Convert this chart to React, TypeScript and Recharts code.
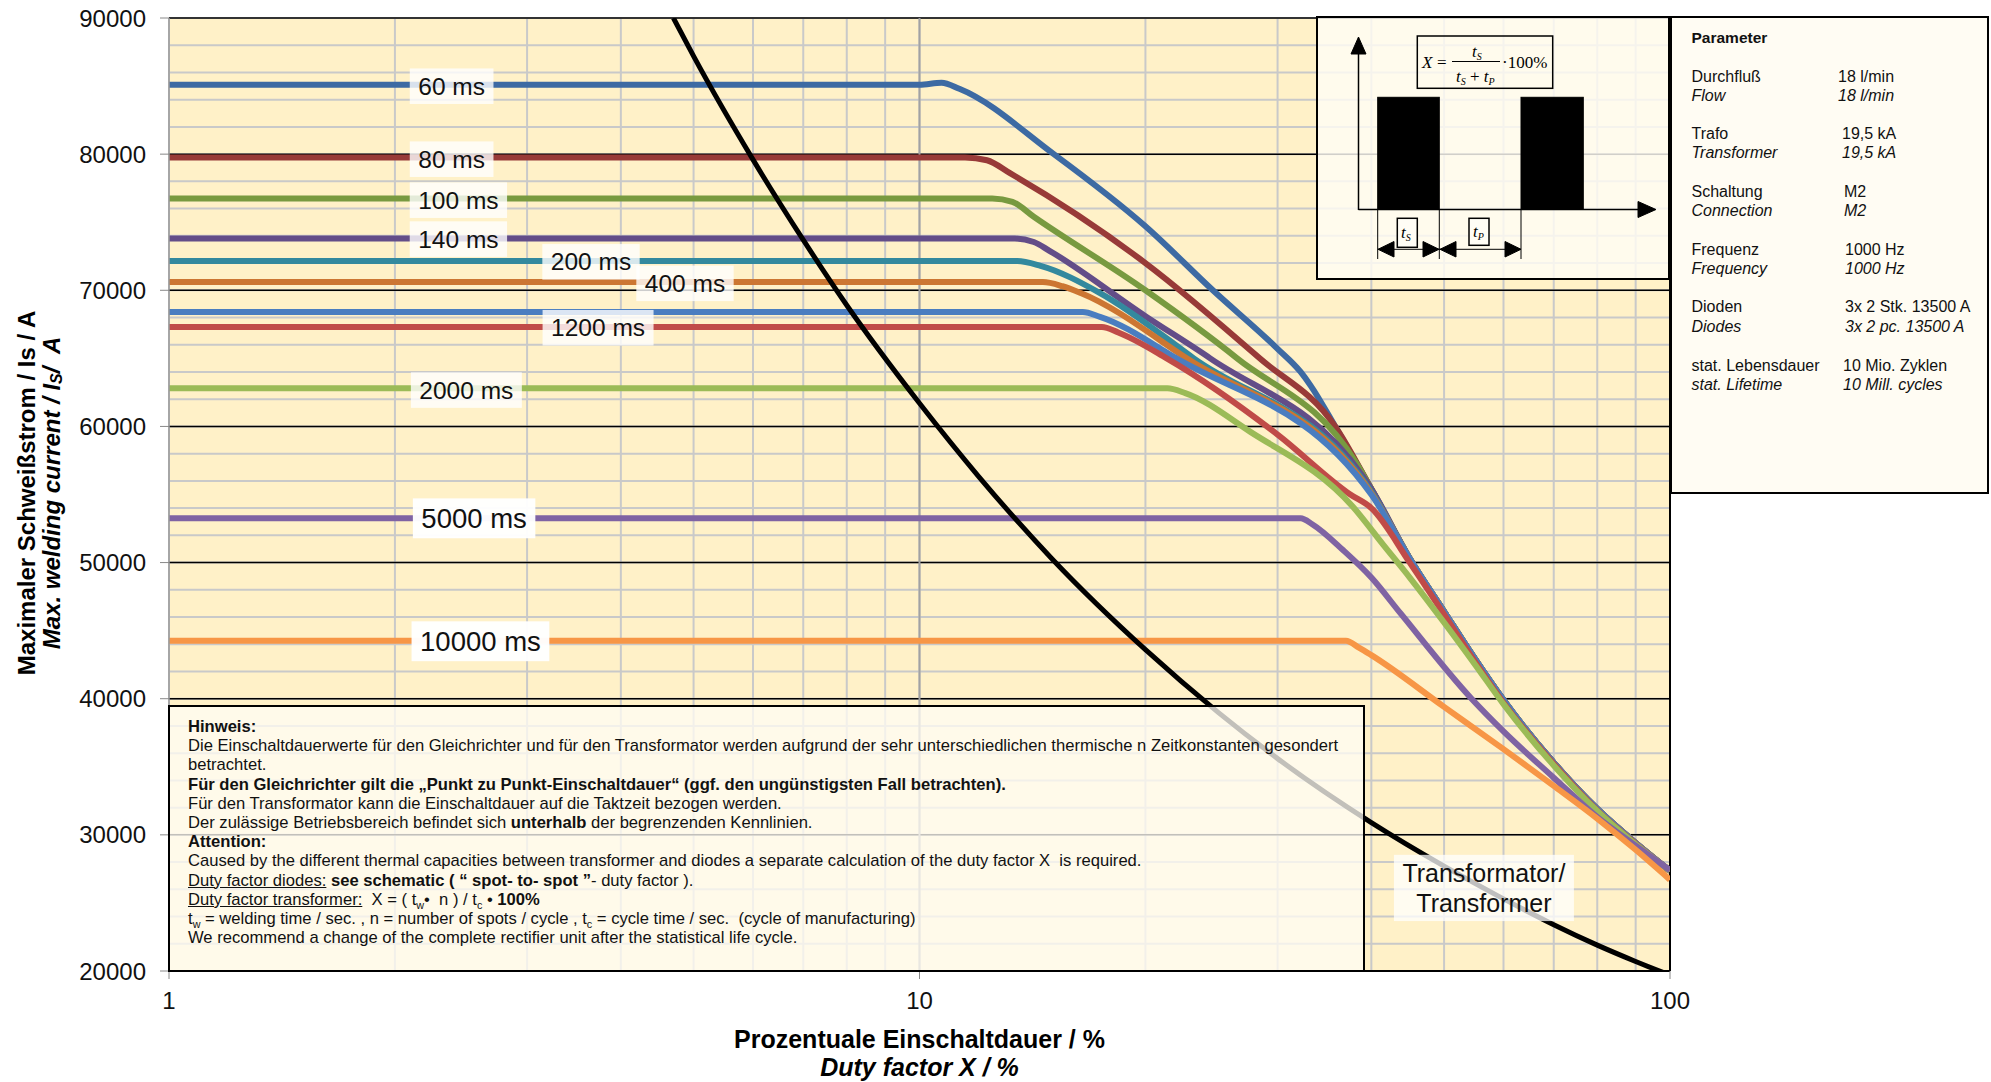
import React from 'react';
import { CartesianGrid, Line, LineChart, ReferenceDot, ReferenceLine, XAxis, YAxis } from 'recharts';

const FONT = '"Liberation Sans", Arial, sans-serif';
const SERIF = '"Liberation Serif", "Times New Roman", serif';

// axis values
const xTicks = [1, 10, 100];
const xGrid = [1, 2, 3, 4, 5, 6, 7, 8, 9, 10, 20, 30, 40, 50, 60, 70, 80, 90, 100];
const yMajor = [20000, 30000, 40000, 50000, 60000, 70000, 80000, 90000];
const yMinor = [
  20000, 22000, 24000, 26000, 28000, 30000, 32000, 34000, 36000, 38000, 40000, 42000, 44000, 46000, 48000, 50000,
  52000, 54000, 56000, 58000, 60000, 62000, 64000, 66000, 68000, 70000, 72000, 74000, 76000, 78000, 80000, 82000,
  84000, 86000, 88000, 90000,
];

// curves, [duty factor %, current A]
const bundleTail: [number, number][] = [
  [45, 50300], [50, 46400], [55, 42900], [60, 39900], [70, 35300], [80, 31900], [90, 29400], [100, 27350],
];
const ms60: [number, number][] = [
  [1, 85100], [10, 85100], [10.7, 85250], [11.3, 84800], [15.1, 80000], [20, 74700], [24.6, 70000], [30, 65700],
  [32.2, 64000], [33.2, 63000], [35.8, 60000], [40, 55400],
];
const ms80: [number, number][] = [
  [1, 79750], [11.5, 79750], [12.3, 79550], [13.2, 78600], [20, 72000], [28.4, 65000], [35.8, 60000], [40, 55400],
];
const ms100: [number, number][] = [
  [1, 76750], [12.5, 76750], [13.3, 76500], [14.2, 75400], [20, 70000], [26.5, 65000], [38.2, 57300], [40, 55400],
];
const ms140: [number, number][] = [
  [1, 73800], [13.4, 73800], [14.2, 73550], [14.9, 72900], [20, 68100], [24.4, 65000], [39, 56300], [40, 55400],
];
const ms200: [number, number][] = [
  [1, 72150], [13.5, 72150], [14.5, 71800], [17.4, 69800], [23.2, 65000], [40, 55200],
];
const ms400: [number, number][] = [
  [1, 70600], [14.6, 70600], [15.5, 70300], [16.4, 69800], [22.7, 65000], [40, 55100],
];
const msBlue: [number, number][] = [[1, 68400], [16.5, 68400], [17.4, 68050], [22, 65000], [40, 55000]];
const ms1200: [number, number][] = [
  [1, 67300], [17.5, 67300], [18.4, 66900], [21.35, 65000], [30, 59400], [37.5, 55000], [40, 54000], [45, 50000],
  [50, 46200], [55, 42700], [60, 39700], [70, 35200], [80, 31800], [90, 29350], [100, 27350],
];
const ms2000: [number, number][] = [
  [1, 62800], [21.4, 62800], [22.6, 62450], [27.6, 59600], [37.8, 54100], [41.5, 51300], [45, 48900], [50, 45600],
  [55, 42500], [60, 39600], [70, 35100], [80, 31750], [90, 29300], [100, 27350],
];
const ms5000: [number, number][] = [
  [1, 53250], [32.2, 53250], [33.4, 52800], [36.7, 50900], [40, 48900], [43.7, 46300], [54.4, 40000], [60, 37600],
  [70, 34200], [80, 31300], [90, 29200], [100, 27400],
];
const ms10000: [number, number][] = [
  [1, 44250], [37, 44250], [38.5, 43750], [40, 43200], [50, 39400], [60, 36300], [70, 33600], [80, 31200],
  [90, 28900], [100, 26700],
];
const transformer: [number, number][] = [
  [4.7, 90000], [5, 87200], [6, 79600], [7, 73700], [8, 68900], [10, 61700], [12, 56300], [15, 50300], [20, 43600],
  [25, 39000], [30, 35600], [40, 30900], [50, 27700], [60, 25300], [70, 23400], [80, 21900], [90, 20700],
  [100, 19700],
];

// curve labels
const labelText = ['60 ms', '80 ms', '100 ms', '140 ms', '200 ms', '400 ms', '1200 ms', '2000 ms', '5000 ms', '10000 ms'];
const labelX = [2.38, 2.38, 2.43, 2.43, 3.65, 4.87, 3.73, 2.49, 2.55, 2.6];
const labelY = [84990, 79630, 76620, 73760, 72090, 70510, 67250, 62670, 53250, 44220];

const toPts = (a: [number, number][]) => a.map(([x, y]) => ({ x, y }));

const series = [
  { name: '60 ms', data: ms60.concat(bundleTail), color: '#3d6aa3' },
  { name: '80 ms', data: ms80.concat(bundleTail), color: '#983a38' },
  { name: '100 ms', data: ms100.concat(bundleTail), color: '#789a40' },
  { name: '140 ms', data: ms140.concat(bundleTail), color: '#634d88' },
  { name: '200 ms', data: ms200.concat(bundleTail), color: '#33899e' },
  { name: '400 ms', data: ms400.concat(bundleTail), color: '#cc7632' },
  { name: '800 ms', data: msBlue.concat(bundleTail), color: '#4a7dc0' },
  { name: '1200 ms', data: ms1200, color: '#c04b48' },
  { name: '2000 ms', data: ms2000, color: '#9bbb57' },
  { name: '5000 ms', data: ms5000, color: '#7f63a3' },
  { name: '10000 ms', data: ms10000, color: '#f79646' },
];

const measureCtx = typeof document !== 'undefined' ? document.createElement('canvas').getContext('2d') : null;
function textWidth(t: string, size: number) {
  if (!measureCtx) return t.length * size * 0.55;
  measureCtx.font = `${size}px "Liberation Sans", Arial`;
  return measureCtx.measureText(t).width;
}

function BoxLabel({ viewBox, lines, size, alpha }: any) {
  const vb = viewBox || {};
  const cx = (vb.x ?? vb.cx ?? 0) + (vb.width || 0) / 2;
  const cy = (vb.y ?? vb.cy ?? 0) + (vb.height || 0) / 2;
  const lh = size * 1.2;
  const w = Math.max(...lines.map((l: string) => textWidth(l, size))) + 17;
  const h = lh * (lines.length - 1) + size * 1.45;
  return (
    <g>
      <rect x={cx - w / 2} y={cy - h / 2} width={w} height={h} fill={`rgba(255,255,255,${alpha})`} />
      {lines.map((l: string, i: number) => (
        <text
          key={l}
          x={cx}
          y={cy + (i - (lines.length - 1) / 2) * lh}
          textAnchor="middle"
          dominantBaseline="central"
          fontSize={size}
          fontFamily={FONT}
          fill="#111"
        >
          {l}
        </text>
      ))}
    </g>
  );
}

const paramRows: [string, string, number, number, boolean][] = [
  ['Durchfluß', '18  l/min', 76, 1838, false],
  ['Flow', '18 l/min', 95, 1838, true],
  ['Trafo', '19,5 kA', 133.3, 1842, false],
  ['Transformer', '19,5 kA', 152.7, 1842, true],
  ['Schaltung', 'M2', 191.7, 1844, false],
  ['Connection', 'M2', 210.7, 1844, true],
  ['Frequenz', '1000 Hz', 249.3, 1845, false],
  ['Frequency', '1000 Hz', 268.3, 1845, true],
  ['Dioden', '3x 2 Stk. 13500 A', 306.7, 1845, false],
  ['Diodes', '3x 2 pc.  13500 A', 326, 1845, true],
  ['stat. Lebensdauer', '10 Mio.  Zyklen', 365, 1843, false],
  ['stat. Lifetime', '10 Mill.  cycles', 384, 1843, true],
];

const sub = { fontSize: '0.65em', lineHeight: 0 } as const;

function Overlay() {
  return (
    <svg width={1991} height={1082} style={{ position: 'absolute', left: 0, top: 0, pointerEvents: 'none' }}>
      {/* axis titles */}
      <g fontFamily={FONT} fontWeight="bold" fill="#000">
        <text x={919.5} y={1039} textAnchor="middle" dominantBaseline="central" fontSize={25}>
          Prozentuale Einschaltdauer / %
        </text>
        <text x={919.5} y={1067} textAnchor="middle" dominantBaseline="central" fontSize={25} fontStyle="italic">
          Duty factor X / %
        </text>
        <text transform="translate(26.5,493) rotate(-90)" textAnchor="middle" dominantBaseline="central" fontSize={24}>
          Maximaler Schweißstrom / Is / A
        </text>
        <text
          transform="translate(51,493) rotate(-90)"
          textAnchor="middle"
          dominantBaseline="central"
          fontSize={24}
          fontStyle="italic"
          style={{ whiteSpace: 'pre' }}
        >
          Max. welding current / I
          <tspan fontSize={16} dy={5}>
            S
          </tspan>
          <tspan dy={-5}>{'/  A'}</tspan>
        </text>
      </g>

      {/* duty cycle schematic */}
      <rect x={1317} y={17} width={352} height={262} fill="rgba(255,253,245,0.82)" stroke="#000" strokeWidth={2} />
      <g stroke="#000" fill="#000">
        <line x1={1358.5} y1={210} x2={1358.5} y2={52} strokeWidth={1.5} />
        <polygon points="1358.5,37 1351,54 1366,54" />
        <line x1={1358.5} y1={209.5} x2={1640} y2={209.5} strokeWidth={1.5} />
        <polygon points="1656,209.5 1638,201.5 1638,217.5" />
        <rect x={1377.7} y={97.3} width={61.6} height={112} />
        <rect x={1521} y={97.3} width={62.3} height={112} />
        <line x1={1377.7} y1={209.5} x2={1377.7} y2={259} strokeWidth={1} />
        <line x1={1439.3} y1={209.5} x2={1439.3} y2={259} strokeWidth={1} />
        <line x1={1521} y1={209.5} x2={1521} y2={259} strokeWidth={1} />
        <line x1={1377.7} y1={249.3} x2={1521} y2={249.3} strokeWidth={1} />
        <polygon points="1378,249.3 1394,241.5 1394,257" />
        <polygon points="1439,249.3 1423,241.5 1423,257" />
        <polygon points="1440,249.3 1456,241.5 1456,257" />
        <polygon points="1521,249.3 1505,241.5 1505,257" />
      </g>
      <g fill="none" stroke="#000" strokeWidth={1.5}>
        <rect x={1417.3} y={36} width={135.4} height={52.3} />
        <rect x={1397.3} y={218.3} width={20} height={29} fill="rgba(255,253,245,1)" />
        <rect x={1469} y={218.3} width={20} height={27} fill="rgba(255,253,245,1)" />
        <line x1={1452} y1={61.5} x2={1500} y2={61.5} strokeWidth={1} />
      </g>
      <g fontFamily={SERIF} fill="#000" fontSize={17}>
        <text x={1422} y={68} fontStyle="italic">
          X
        </text>
        <text x={1437} y={68}>=</text>
        <text x={1472} y={57} fontStyle="italic">
          t<tspan fontSize={10} dy={3}>S</tspan>
        </text>
        <text x={1456} y={82} fontStyle="italic">
          t<tspan fontSize={10} dy={3}>S</tspan>
          <tspan dy={-3} fontStyle="normal">
            {' + '}
          </tspan>
          t<tspan fontSize={10} dy={3}>P</tspan>
        </text>
        <text x={1502} y={68}>·100%</text>
        <text x={1401} y={238} fontStyle="italic">
          t<tspan fontSize={10} dy={3}>S</tspan>
        </text>
        <text x={1473} y={237} fontStyle="italic">
          t<tspan fontSize={10} dy={3}>P</tspan>
        </text>
      </g>

      {/* parameter box */}
      <rect x={1671} y={17} width={317} height={476} fill="#fffcf3" stroke="#000" strokeWidth={2} />
      <g fontFamily={FONT} fontSize={16} fill="#111" style={{ whiteSpace: 'pre' }}>
        <text x={1691.5} y={37.5} dominantBaseline="central" fontWeight="bold" fontSize={15.5}>
          Parameter
        </text>
        {paramRows.map(([a, b, y, vx, it]) => (
          <g key={a + y} fontStyle={it ? 'italic' : 'normal'}>
            <text x={1691.5} y={y} dominantBaseline="central">
              {a}
            </text>
            <text x={vx} y={y} dominantBaseline="central">
              {b}
            </text>
          </g>
        ))}
      </g>
    </svg>
  );
}

function Hinweis() {
  return (
    <div
      style={{
        position: 'absolute',
        left: 168,
        top: 705,
        width: 1197,
        height: 267,
        boxSizing: 'border-box',
        border: '2px solid #000',
        background: 'rgba(255,253,245,0.76)',
        padding: '10px 0 0 18px',
        fontFamily: FONT,
        fontSize: 16.6,
        lineHeight: '19.2px',
        color: '#111',
        whiteSpace: 'pre',
      }}
    >
      <div style={{ fontWeight: 700 }}>Hinweis:</div>
      <div>
        Die Einschaltdauerwerte für den Gleichrichter und für den Transformator werden aufgrund der sehr
        unterschiedlichen thermische n Zeitkonstanten gesondert
      </div>
      <div>betrachtet.</div>
      <div style={{ fontWeight: 700 }}>
        Für den Gleichrichter gilt die „Punkt zu Punkt-Einschaltdauer“ (ggf. den ungünstigsten Fall betrachten).
      </div>
      <div>Für den Transformator kann die Einschaltdauer auf die Taktzeit bezogen werden.</div>
      <div>
        Der zulässige Betriebsbereich befindet sich <b>unterhalb</b> der begrenzenden Kennlinien.
      </div>
      <div style={{ fontWeight: 700 }}>Attention:</div>
      <div>
        Caused by the different thermal capacities between transformer and diodes a separate calculation of the duty
        factor X  is required.
      </div>
      <div>
        <u>Duty factor diodes:</u> <b>see schematic ( “ spot- to- spot ”</b>- duty factor ).
      </div>
      <div>
        <u>Duty factor transformer:</u>  X = ( t<sub style={sub}>w</sub>•  n ) / t<sub style={sub}>c</sub> •{' '}
        <b>100%</b>
      </div>
      <div>
        t<sub style={sub}>w</sub> = welding time / sec. , n = number of spots / cycle , t<sub style={sub}>c</sub> = cycle
        time / sec.  (cycle of manufacturing)
      </div>
      <div>We recommend a change of the complete rectifier unit after the statistical life cycle.</div>
    </div>
  );
}

export default function App() {
  return (
    <div style={{ position: 'absolute', left: 0, top: 0, width: 1991, height: 1082, background: '#fff' }}>
      <LineChart width={1991} height={1082} margin={{ top: 18, right: 321, bottom: 51, left: 49 }}>
        <CartesianGrid
          fill="#fff1c8"
          stroke="#c9c9c9"
          strokeWidth={2}
          horizontalValues={yMinor}
          verticalValues={xGrid}
        />
        <CartesianGrid vertical={false} stroke="#000" strokeWidth={1.5} horizontalValues={yMajor} />
        <CartesianGrid horizontal={false} stroke="#a2a2a2" strokeWidth={2} verticalValues={[10]} />
        <XAxis
          type="number"
          dataKey="x"
          scale="log"
          domain={[1, 100]}
          ticks={xTicks}
          allowDataOverflow
          height={60}
          tickSize={8}
          tickMargin={13}
          axisLine={{ stroke: '#000', strokeWidth: 2 }}
          tickLine={{ stroke: '#888' }}
          tick={{ fontSize: 24, fill: '#111', fontFamily: FONT }}
        />
        <YAxis
          type="number"
          domain={[20000, 90000]}
          ticks={yMajor}
          allowDataOverflow
          width={120}
          tickSize={9}
          tickMargin={14}
          axisLine={{ stroke: '#9a9a9a', strokeWidth: 1.5 }}
          tickLine={{ stroke: '#888' }}
          tick={{ fontSize: 24, fill: '#111', fontFamily: FONT }}
        />
        <ReferenceLine x={100} stroke="#000" strokeWidth={2} />
        {series.map((s) => (
          <Line
            key={s.name}
            data={toPts(s.data)}
            dataKey="y"
            name={s.name}
            type="monotone"
            stroke={s.color}
            strokeWidth={6}
            strokeLinejoin="round"
            dot={false}
            activeDot={false}
            isAnimationActive={false}
          />
        ))}
        <Line
          data={toPts(transformer)}
          dataKey="y"
          name="Transformator"
          type="monotone"
          stroke="#000"
          strokeWidth={5}
          dot={false}
          activeDot={false}
          isAnimationActive={false}
        />
        {labelText.map((t, i) => (
          <ReferenceDot
            key={t}
            x={labelX[i]}
            y={labelY[i]}
            r={0}
            fill="none"
            stroke="none"
            label={(p: any) => (
              <BoxLabel viewBox={p.viewBox} lines={[t]} size={i >= 8 ? 27.5 : 24.5} alpha={i >= 8 ? 0.96 : 0.8} />
            )}
          />
        ))}
        <ReferenceDot
          x={56.5}
          y={26100}
          r={0}
          fill="none"
          stroke="none"
          label={(p: any) => (
            <BoxLabel viewBox={p.viewBox} lines={['Transformator/', 'Transformer']} size={25} alpha={0.75} />
          )}
        />
      </LineChart>
      <Overlay />
      <Hinweis />
    </div>
  );
}
